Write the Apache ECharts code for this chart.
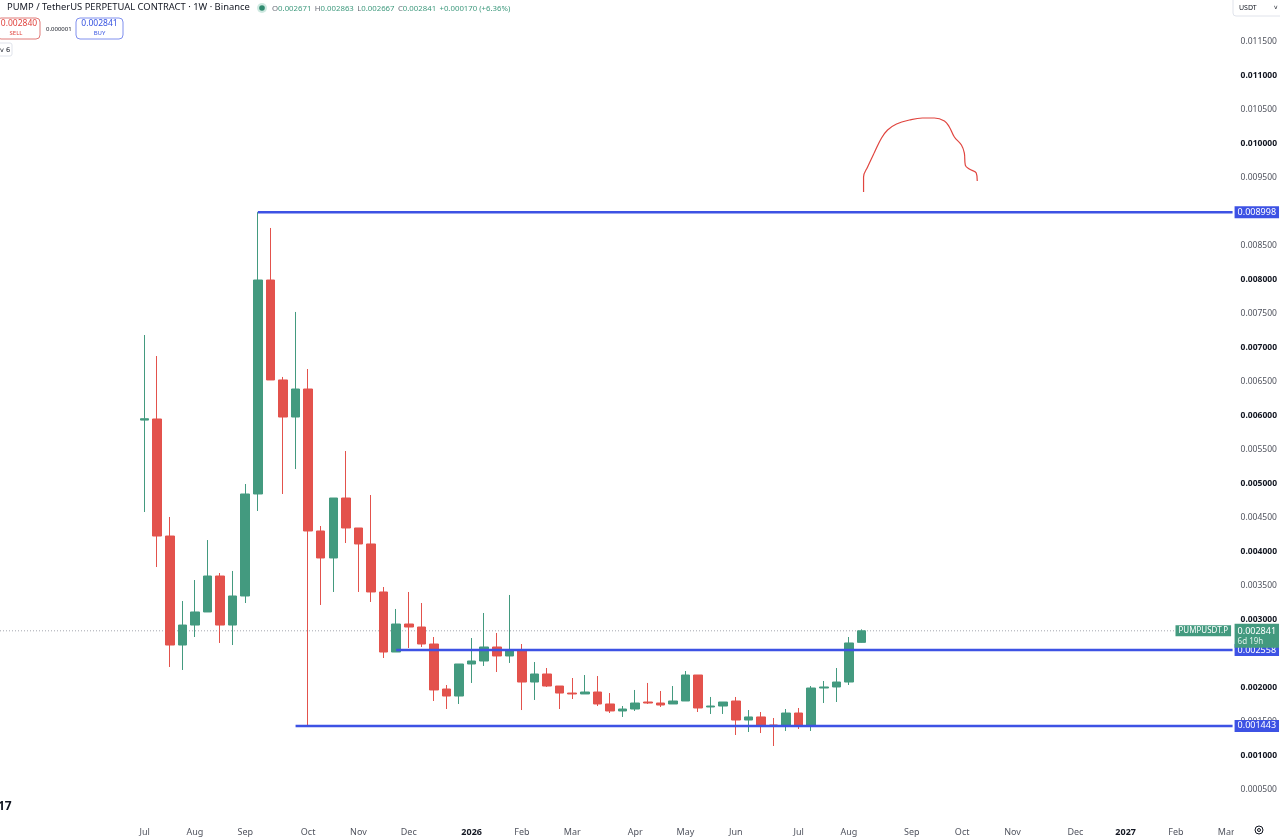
<!DOCTYPE html>
<html><head><meta charset="utf-8">
<script src="https://cdn.jsdelivr.net/npm/echarts@6/dist/echarts.min.js"></script>
<style>html,body{margin:0;padding:0;background:#fff}#c{width:1280px;height:840px}</style>
</head><body><div id="c"></div>
<script>
// ---- data ----
const axisStartWeek = '2025-04-21';
const weekCount = 98;
const candleStartWeek = '2025-07-07';
const monthNames = ['Jan','Feb','Mar','Apr','May','Jun','Jul','Aug','Sep','Oct','Nov','Dec'];
const opens  = [0.005940,0.005956,0.004235,0.002632,0.002926,0.003118,0.003647,0.002926,0.003353,0.004853,
                0.008000,0.006530,0.005985,0.006397,0.004309,0.003912,0.004794,0.004353,0.004118,0.003412,
                0.002529,0.002941,0.002897,0.002647,0.001985,0.001882,0.002353,0.002397,0.002603,0.002471,
                0.002559,0.002088,0.002206,0.002029,0.001926,0.001912,0.001941,0.001765,0.001662,0.001691,
                0.001794,0.001779,0.001765,0.001809,0.002191,0.001721,0.001735,0.001809,0.001529,0.001574,
                0.001456,0.001456,0.001632,0.001456,0.002000,0.002015,0.002088,0.002671];
const closes = [0.005960,0.004235,0.002632,0.002926,0.003118,0.003647,0.002926,0.003353,0.004853,0.008000,
                0.006530,0.005985,0.006397,0.004309,0.003912,0.004794,0.004353,0.004118,0.003412,0.002529,
                0.002941,0.002897,0.002647,0.001971,0.001882,0.002353,0.002397,0.002603,0.002471,0.002544,
                0.002088,0.002206,0.002029,0.001926,0.001912,0.001941,0.001765,0.001662,0.001691,0.001779,
                0.001779,0.001750,0.001809,0.002191,0.001706,0.001735,0.001794,0.001529,0.001574,0.001456,
                0.001441,0.001632,0.001456,0.002000,0.002015,0.002088,0.002662,0.002841];
const lows   = [0.004588,0.003779,0.002309,0.002265,0.002750,0.003118,0.002662,0.002632,0.003250,0.004603,
                0.006530,0.004853,0.005220,0.001443,0.003221,0.003412,0.004132,0.003412,0.003265,0.002441,
                0.002529,0.002588,0.002603,0.001809,0.001691,0.001765,0.002074,0.002324,0.002235,0.002368,
                0.001676,0.001824,0.002015,0.001691,0.001838,0.001912,0.001735,0.001632,0.001574,0.001662,
                0.001765,0.001721,0.001765,0.001809,0.001647,0.001618,0.001618,0.001309,0.001353,0.001338,
                0.001147,0.001368,0.001397,0.001368,0.001779,0.001794,0.002044,0.002667];
const highs  = [0.007191,0.006882,0.004515,0.003279,0.003588,0.004176,0.003691,0.003721,0.005000,0.008998,
                0.008765,0.006574,0.007530,0.006691,0.004382,0.004794,0.005485,0.004353,0.004838,0.003485,
                0.003162,0.003412,0.003250,0.002750,0.002044,0.002353,0.002735,0.003103,0.002809,0.003368,
                0.002647,0.002382,0.002294,0.002029,0.002147,0.002191,0.002176,0.001926,0.001735,0.001971,
                0.002074,0.001956,0.002029,0.002250,0.002191,0.001868,0.001794,0.001868,0.001676,0.001647,
                0.001559,0.001691,0.001706,0.002029,0.002103,0.002294,0.002750,0.002863];
const levelValues = [0.008998, 0.002558, 0.001443];
const levelStartWeeks = ['2025-09-08', '2025-11-24', '2025-09-29'];
const lastPrice = 0.002841;
const countdownText = '6d 19h';
const symbolText = 'PUMPUSDT.P';
// free-hand drawing, x in week units from axis start, y in price
const drawingPoints = [[68.66,0.009294],[68.66,0.009515],[68.98,0.009662],[69.54,0.009882],[70.09,0.010088],
  [70.57,0.010206],[71.28,0.010294],[72.31,0.010353],[73.34,0.010382],[74.29,0.010382],[75.09,0.010338],
  [75.48,0.010250],[75.88,0.010103],[76.44,0.009985],[76.67,0.009868],[76.75,0.009691],[77.07,0.009632],
  [77.62,0.009574],[77.70,0.009456]];

// ---- build ----
const GREEN = '#439a7f', RED = '#e3524c', BLUE = '#3d52e4';
const FONT = 'Noto Sans';
function iso(d){ return d.toISOString().slice(0,10); }
const categories = [];
{ const d = new Date(axisStartWeek + 'T00:00:00Z');
  for (let i = 0; i < weekCount; i++) { categories.push(iso(d)); d.setUTCDate(d.getUTCDate()+7); } }
const offset = categories.indexOf(candleStartWeek);
const candleData = categories.map((c,i) => {
  const k = i - offset;
  return (k >= 0 && k < opens.length) ? [opens[k], closes[k], lows[k], highs[k]] : '-';
});
function monthLabel(i){
  if (categories[i] < candleStartWeek) return '';
  const m = +categories[i].slice(5,7) - 1;
  const pm = i > 0 ? +categories[i-1].slice(5,7) - 1 : -1;
  if (m === pm) return '';
  return m === 0 ? '{y|' + categories[i].slice(0,4) + '}' : monthNames[m];
}

const series = [{
  type: 'candlestick', xAxisIndex: 0, yAxisIndex: 0, data: candleData, barWidth: '72%', z: 3,
  itemStyle: { color: GREEN, color0: RED, borderColor: GREEN, borderColor0: RED, borderWidth: 1 }
}, {
  // last price dotted line
  type: 'line', xAxisIndex: 1, yAxisIndex: 0, data: [[0, lastPrice], [weekCount, lastPrice]],
  symbol: 'none', silent: true, z: 2, animation: false,
  lineStyle: { color: '#a3a6ae', type: [1, 2], width: 1 }
}, {
  // last price labels (drawn above the level lines)
  type: 'line', xAxisIndex: 1, yAxisIndex: 0, data: [[weekCount - 1, lastPrice], [weekCount, lastPrice]],
  symbol: 'none', silent: true, z: 6, animation: false,
  lineStyle: { opacity: 0 },
  endLabel: { show: true, distance: 2, offset: [0, 5],
    formatter: '{p|' + lastPrice.toFixed(6) + '}\n{t|' + countdownText + '}',
    backgroundColor: GREEN, padding: [2, 3, 1, 3],
    rich: { p: { fontSize: 9, color: '#fff', fontFamily: FONT, lineHeight: 11 },
            t: { fontSize: 8, color: '#dff0ea', fontFamily: FONT, lineHeight: 10 } } },
  markPoint: { silent: true, symbol: 'rect', symbolSize: 1, itemStyle: { color: 'rgba(0,0,0,0)' },
    data: [{ coord: [weekCount, lastPrice],
      label: { show: true, position: 'left', distance: 1, formatter: symbolText, backgroundColor: GREEN,
        color: '#fff', fontSize: 8, fontFamily: FONT, padding: [2, 3, 1, 3] } }] }
}];
levelValues.forEach((v, i) => {
  const s = categories.indexOf(levelStartWeeks[i]) + 0.5;
  series.push({
    type: 'line', xAxisIndex: 1, yAxisIndex: 0, data: [[s, v], [weekCount, v]],
    symbol: 'none', silent: true, z: 4, animation: false,
    lineStyle: { color: BLUE, width: 2.5 },
    endLabel: { show: true, formatter: v.toFixed(6), backgroundColor: BLUE, color: '#fff',
      fontSize: 9, fontFamily: FONT, padding: [2,3,1,3], distance: 2 }
  });
});
series.push({
  type: 'line', xAxisIndex: 1, yAxisIndex: 0, data: drawingPoints, smooth: 0.4,
  symbol: 'none', silent: true, z: 4, lineStyle: { color: '#e0453f', width: 1.2 }
});

const chart = echarts.init(document.getElementById('c'), null, { renderer: 'canvas' });
chart.setOption({
  animation: false,
  backgroundColor: '#ffffff',
  textStyle: { fontFamily: FONT },
  grid: { left: -2, right: 46, top: 8, bottom: 16, containLabel: false },
  xAxis: [{
    type: 'category', data: categories, boundaryGap: true,
    axisLine: { show: false }, axisTick: { show: false }, splitLine: { show: false },
    axisLabel: { interval: (i) => monthLabel(i) !== '', formatter: (v, i) => monthLabel(i),
      color: '#50535e', fontSize: 9, margin: 4, fontFamily: FONT,
      rich: { y: { fontWeight: 'bold', color: '#131722', fontSize: 9, fontFamily: FONT } } }
  }, {
    type: 'value', min: 0, max: weekCount, show: false
  }],
  yAxis: [{
    type: 'value', position: 'right', min: 0, max: 0.012, interval: 0.0005,
    axisLine: { show: false }, axisTick: { show: false }, splitLine: { show: false },
    axisLabel: { margin: 8, align: 'left', fontFamily: FONT,
      formatter: (v) => {
        if (v <= 0 || v > 0.0116) return '';
        const txt = v.toFixed(6);
        return Math.round(v * 2000) % 2 === 0 ? '{b|' + txt + '}' : '{n|' + txt + '}';
      },
      rich: { b: { fontSize: 8.5, fontWeight: 'bold', color: '#131722', fontFamily: FONT },
              n: { fontSize: 8.5, color: '#50535e', fontFamily: FONT } } }
  }],
  series: series,
  graphic: [
    { type: 'text', left: 7, top: 2.5, z: 10, style: { text: 'PUMP / TetherUS PERPETUAL CONTRACT · 1W · Binance',
        fontSize: 9.4, fontFamily: FONT, fill: '#131722' } },
    { type: 'circle', shape: { cx: 262, cy: 8, r: 5 }, style: { fill: '#cfe9e1' }, z: 10 },
    { type: 'circle', shape: { cx: 262, cy: 8, r: 2.8 }, style: { fill: '#2f8a6f' }, z: 11 },
    { type: 'text', left: 272, top: 3, z: 10, style: {
        text: '{l|O}{g|0.002671} {l|H}{g|0.002863} {l|L}{g|0.002667} {l|C}{g|0.002841} {g|+0.000170 (+6.36%)}',
        rich: { l: { fill: '#6a6d78', fontSize: 7.8, fontFamily: FONT }, g: { fill: '#3f9a7e', fontSize: 7.8, fontFamily: FONT } } } },
    { type: 'rect', shape: { x: -3, y: 18, width: 43, height: 21, r: 4 }, style: { fill: '#fff', stroke: '#e07a78', lineWidth: 1 }, z: 10 },
    { type: 'text', x: 19, y: 24, z: 11, style: { text: '0.002840', fill: '#e0453f', fontSize: 8.5, fontFamily: FONT, align: 'center', verticalAlign: 'middle' } },
    { type: 'text', x: 16, y: 33, z: 11, style: { text: 'SELL', fill: '#e0453f', fontSize: 6, fontFamily: FONT, align: 'center', verticalAlign: 'middle' } },
    { type: 'text', x: 46, y: 29, z: 11, style: { text: '0.000001', fill: '#131722', fontSize: 6, fontFamily: FONT, verticalAlign: 'middle' } },
    { type: 'rect', shape: { x: 76, y: 18, width: 47, height: 21, r: 4 }, style: { fill: '#fff', stroke: '#8090ee', lineWidth: 1 }, z: 10 },
    { type: 'text', x: 99.5, y: 24, z: 11, style: { text: '0.002841', fill: '#3552e0', fontSize: 8.5, fontFamily: FONT, align: 'center', verticalAlign: 'middle' } },
    { type: 'text', x: 99.5, y: 33, z: 11, style: { text: 'BUY', fill: '#3552e0', fontSize: 6, fontFamily: FONT, align: 'center', verticalAlign: 'middle' } },
    { type: 'rect', shape: { x: -3, y: 43, width: 15, height: 13, r: 2 }, style: { fill: '#fff', stroke: '#e0e3eb', lineWidth: 1 }, z: 10 },
    { type: 'text', x: 0, y: 50, z: 11, style: { text: 'v 6', fill: '#131722', fontSize: 6.5, fontFamily: 'DejaVu Sans', verticalAlign: 'middle' } },
    { type: 'rect', shape: { x: 1233, y: -3, width: 50, height: 19, r: 3 }, style: { fill: '#fff', stroke: '#e0e3eb', lineWidth: 1 }, z: 10 },
    { type: 'text', x: 1239, y: 8, z: 11, style: { text: 'USDT', fill: '#131722', fontSize: 7, fontFamily: FONT, verticalAlign: 'middle' } },
    { type: 'text', x: 1274, y: 7, z: 11, style: { text: 'v', fill: '#131722', fontSize: 6, fontFamily: 'DejaVu Sans', verticalAlign: 'middle' } },
    { type: 'rect', shape: { x: 1234, y: 822, width: 46, height: 18 }, style: { fill: '#fff' }, z: 20 },
    { type: 'circle', shape: { cx: 1259, cy: 830, r: 4 }, style: { fill: 'none', stroke: '#131722', lineWidth: 1 }, z: 21 },
    { type: 'circle', shape: { cx: 1259, cy: 830, r: 1.5 }, style: { fill: 'none', stroke: '#131722', lineWidth: 1 }, z: 21 },
    { type: 'text', x: -2, y: 807, z: 11, style: { text: '17', fill: '#131722', fontSize: 12, fontWeight: 'bold', fontFamily: FONT, verticalAlign: 'middle' } }
  ]
});
</script></body></html>
